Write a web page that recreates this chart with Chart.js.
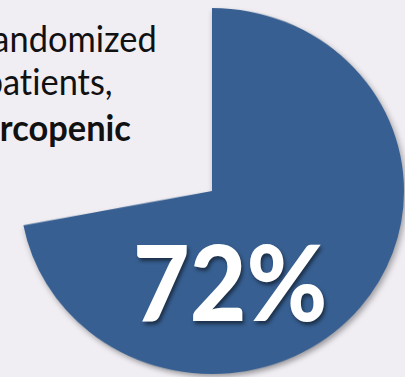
<!DOCTYPE html>
<html>
<head>
<meta charset="utf-8">
<script src="https://cdn.jsdelivr.net/npm/chart.js@4"></script>
<style>
  html, body { margin: 0; padding: 0; }
  body { width: 405px; height: 377px; overflow: hidden; position: relative; background: #f0eef3; font-family: Lato, "Open Sans", sans-serif; }
  #pieWrap {
    position: absolute; left: 20px; top: -1px; width: 384px; height: 384px;
    transform: scaleY(0.953); transform-origin: 50% 50%;
    filter: drop-shadow(2px 3px 3px rgba(0,0,0,0.35));
  }
  .note {
    position: absolute; white-space: nowrap; font-size: 37px; line-height: 44px; color: #111;
    font-variant-ligatures: none;
    transform: scaleX(0.93); transform-origin: 100% 50%;
  }
  #pct {
    position: absolute; left: 133px; top: 229px; font-size: 104px; font-weight: 900; line-height: 104px;
    color: #fff; text-shadow: 2px 3px 4px rgba(0,0,0,0.5); white-space: nowrap;
    transform: scaleX(0.94); transform-origin: 0 50%;
  }
</style>
</head>
<body>
<div class="note" id="l1" style="right:248px; top:16px;"></div>
<div class="note" id="l2" style="right:292px; top:59px;"></div>
<div class="note" id="l3" style="right:274px; top:105px; font-weight:700;"></div>
<div id="pieWrap"><canvas id="pie"></canvas></div>
<div id="pct"></div>
<script>
// Share of patients: sarcopenic vs. the rest
const categories = ['Sarcopenic', 'Other'];
const shares = [72, 28];
const noteLines = ['andomized', 'patients,', 'rcopenic'];

const sliceColors = ['#375f91', 'rgba(0,0,0,0)'];

noteLines.forEach((t, i) => { document.getElementById('l' + (i + 1)).textContent = t; });
document.getElementById('pct').textContent = shares[0] + '%';

new Chart(document.getElementById('pie'), {
  type: 'pie',
  data: {
    labels: categories,
    datasets: [{
      data: shares,
      backgroundColor: sliceColors,
      borderWidth: 0,
      hoverOffset: 0
    }]
  },
  options: {
    responsive: true,
    maintainAspectRatio: false,
    animation: false,
    layout: { padding: 0 },
    plugins: { legend: { display: false }, tooltip: { enabled: false } }
  }
});
</script>
</body>
</html>
